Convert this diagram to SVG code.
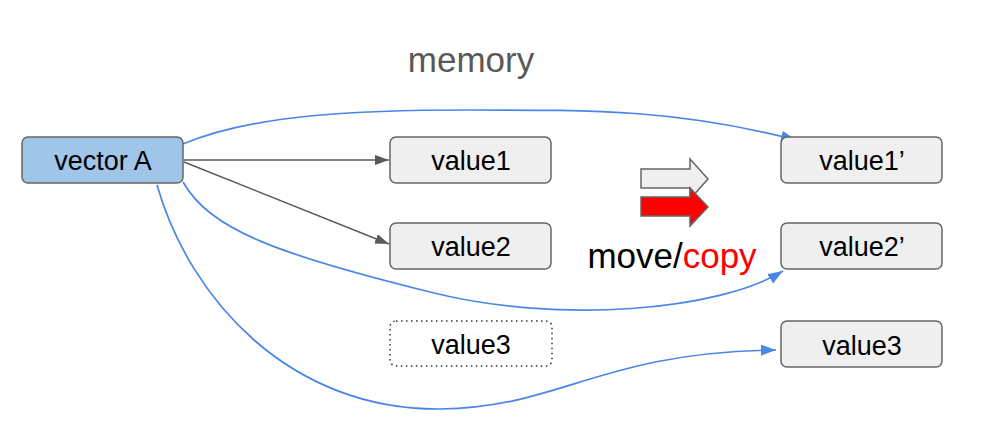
<svg xmlns="http://www.w3.org/2000/svg" width="989" height="448" viewBox="0 0 989 448">
<defs>
<style>
.node{fill:#efefef;stroke:#666666;stroke-width:1.5}
.lbl{font-family:"Liberation Sans",Arial,sans-serif;font-size:27px;fill:#000;text-anchor:middle}
.gray{fill:none;stroke:#595959;stroke-width:1.5}
.blue{fill:none;stroke:#4a86e8;stroke-width:1.7}
</style>
<marker id="ag" markerUnits="userSpaceOnUse" markerWidth="15" markerHeight="11" refX="14" refY="5.5" orient="auto"><path d="M0,0.5 L14,5.5 L0,10.5 z" fill="#595959"/></marker>
<marker id="ab" markerUnits="userSpaceOnUse" markerWidth="16" markerHeight="12" refX="15" refY="6" orient="auto"><path d="M0,0.5 L15,6 L0,11.5 z" fill="#4a86e8"/></marker>
</defs>
<rect width="989" height="448" fill="#ffffff"/>
<text x="471" y="72" font-family="Liberation Sans, Arial, sans-serif" font-size="35" fill="#595959" text-anchor="middle">memory</text>
<g id="connectors">
<path class="gray" d="M184,160 L389,160" marker-end="url(#ag)"/>
<path class="gray" d="M184,162 L389,244" marker-end="url(#ag)"/>
<path class="blue" d="M183,144 C255,114 360,110 470,110 C600,110 680,110 796,140" marker-end="url(#ab)"/>
<path class="blue" d="M183,182 C210,230 280,255 430,292 C560,325 720,310 783,271" marker-end="url(#ab)"/>
<path class="blue" d="M157,185 C190,300 290,410 440,409 C560,408 600,352 776,350" marker-end="url(#ab)"/>
</g>
<g id="vectorA"><rect class="node" x="22" y="137" width="161" height="46" rx="6" style="fill:#9fc5e8"/><text class="lbl" x="103" y="170">vector A</text></g>
<g id="value1"><rect class="node" x="390" y="137" width="161" height="46" rx="6"/><text class="lbl" x="471" y="170">value1</text></g>
<g id="value2"><rect class="node" x="390" y="223" width="161" height="46" rx="6"/><text class="lbl" x="471" y="256">value2</text></g>
<g id="value3old"><rect x="390" y="321" width="162" height="45" rx="6" fill="#ffffff" stroke="#333333" stroke-width="1.5" stroke-dasharray="1.5,3.5"/><text class="lbl" x="471" y="354">value3</text></g>
<g id="value1p"><rect class="node" x="781" y="137" width="161" height="46" rx="6"/><text class="lbl" x="862" y="170">value1’</text></g>
<g id="value2p"><rect class="node" x="781" y="223" width="161" height="46" rx="6"/><text class="lbl" x="862" y="256">value2’</text></g>
<g id="value3"><rect class="node" x="781" y="321" width="161" height="46" rx="6"/><text class="lbl" x="862" y="355">value3</text></g>
<g id="moveArrows">
<polygon points="641,169 690,169 690,159 708,179 690,199 690,188 641,188" fill="#efefef" stroke="#666666" stroke-width="1.5"/>
<polygon points="641,197 690,197 690,188 708,207 690,226 690,216 641,216" fill="#ff0000" stroke="#666666" stroke-width="1.5"/>
</g>
<text x="672" y="268" font-family="Liberation Sans, Arial, sans-serif" font-size="35" text-anchor="middle"><tspan fill="#000000">move/</tspan><tspan fill="#ff0000">copy</tspan></text>
</svg>
